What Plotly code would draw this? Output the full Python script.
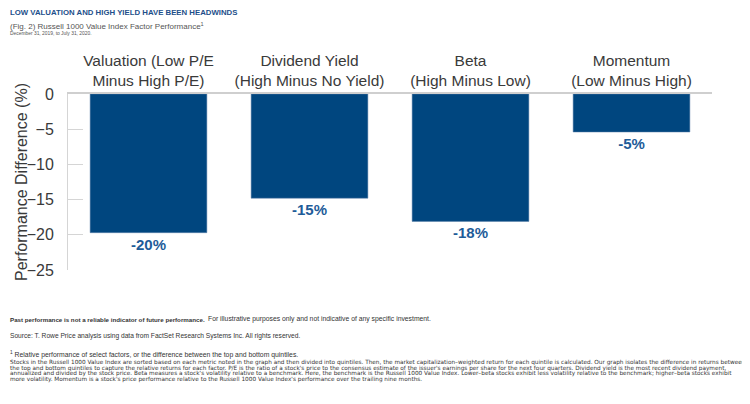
import plotly.graph_objects as go

categories = ["Valuation (Low P/E<br>Minus High P/E)",
              "Dividend Yield<br>(High Minus No Yield)",
              "Beta<br>(High Minus Low)",
              "Momentum<br>(Low Minus High)"]
values = [-19.7, -14.8, -18.1, -5.4]
value_labels = [f"{round(v)}%" for v in values]
y_ticks = [0, -5, -10, -15, -20, -25]

FONT = "Liberation Sans, Arial, Helvetica, sans-serif"
SMALL_FONT = "DejaVu Sans, Liberation Sans, sans-serif"
BAR = "#00467f"
LABEL = "#1e5c99"
GREY = "#3a3a3a"

# page body adds an 8px offset; figure coordinates are screen minus OFF
OFF = 8
W, H = 750 - OFF, 404 - OFF
L = 68 - OFF
T = 94 - OFF
R = W - (712 - OFF)
B = H - (270 - OFF)

fig = go.Figure(go.Bar(
    x=categories, y=values, width=0.725,
    marker=dict(color=BAR, line=dict(color="#5a7fa8", width=0.5)),
    text=value_labels, textposition="outside", cliponaxis=False,
    textfont=dict(family=FONT, size=15, color=LABEL, weight="bold"),
))

fig.update_layout(
    width=W, height=H,
    margin=dict(l=L, r=R, t=T, b=B, autoexpand=False),
    paper_bgcolor="white", plot_bgcolor="white",
    showlegend=False,
    font=dict(family=FONT, color=GREY),
    xaxis=dict(side="top", showline=True, linecolor="#cfcfcf", linewidth=1.5,
               ticks="", automargin=False,
               tickfont=dict(size=15.5, color=GREY), ticklabelstandoff=0),
    yaxis=dict(range=[-25, 0], tickvals=y_ticks, showgrid=False, zeroline=False,
               automargin=False,
               showline=True, linecolor="#d5d5d5", linewidth=1,
               ticks="inside", ticklen=15, tickcolor="#d5d5d5",
               tickfont=dict(size=16, color=GREY), ticklabelstandoff=10),
)


def px_x(sx):
    x = max(sx - OFF, 0)
    return (x - L) / (W - L - R)


def px_y(sy):
    y = sy - OFF
    return 1 - (y - T) / (H - T - B)


fig.add_annotation(text="Performance Difference (%)", xref="paper", yref="paper",
                   x=px_x(21), y=px_y(182), textangle=-90, showarrow=False,
                   xanchor="center", yanchor="middle",
                   font=dict(size=16, color=GREY, family=FONT))

para = [
    "Stocks in the Russell 1000 Value Index are sorted based on each metric noted in the graph and then divided into quintiles. Then, the market capitalization–weighted return for each quintile is calculated. Our graph isolates the difference in returns between",
    "the top and bottom quintiles to capture the relative returns for each factor. P/E is the ratio of a stock's price to the consensus estimate of the issuer's earnings per share for the next four quarters. Dividend yield is the most recent dividend payment,",
    "annualized and divided by the stock price. Beta measures a stock's volatility relative to a benchmark. Here, the benchmark is the Russell 1000 Value Index. Lower–beta stocks exhibit less volatility relative to the benchmark; higher–beta stocks exhibit",
    "more volatility. Momentum is a stock's price performance relative to the Russell 1000 Value Index's performance over the trailing nine months.",
]

ann = [
    dict(text="<b>LOW VALUATION AND HIGH YIELD HAVE BEEN HEADWINDS</b>", x=7, y=12.5, size=7.8, color="#1d4f8a", fam=FONT),
    dict(text="(Fig. 2) Russell 1000 Value Index Factor Performance<sup>1</sup>", x=7, y=26, size=8.0, color="#555555", fam=FONT),
    dict(text="December 31, 2019, to July 31, 2020.", x=7, y=33.5, size=4.9, color="#555555", fam=FONT),
    dict(text="<b>Past performance is not a reliable indicator of future performance.</b>", x=6, y=319, size=6.2, color="#333333", fam=FONT),
    dict(text="For illustrative purposes only and not indicative of any specific investment.", x=206, y=319, size=6.8, color="#333333", fam=FONT),
    dict(text="Source: T. Rowe Price analysis using data from FactSet Research Systems Inc. All rights reserved.", x=6, y=336, size=6.65, color="#333333", fam=FONT),
    dict(text="<sup>1</sup> Relative performance of select factors, or the difference between the top and bottom quintiles.", x=6, y=354, size=6.85, color="#333333", fam=FONT),
]
for i, line in enumerate(para):
    ann.append(dict(text=line, x=6, y=362.8 + 5.4 * i, size=5.75, color="#333333", fam=SMALL_FONT))

for a in ann:
    fig.add_annotation(text=a["text"], xref="paper", yref="paper",
                       x=px_x(a["x"]), y=px_y(a["y"]),
                       xanchor="left", yanchor="middle", align="left", showarrow=False,
                       font=dict(size=a["size"], color=a["color"], family=a["fam"]))

fig.write_html("out.html")
